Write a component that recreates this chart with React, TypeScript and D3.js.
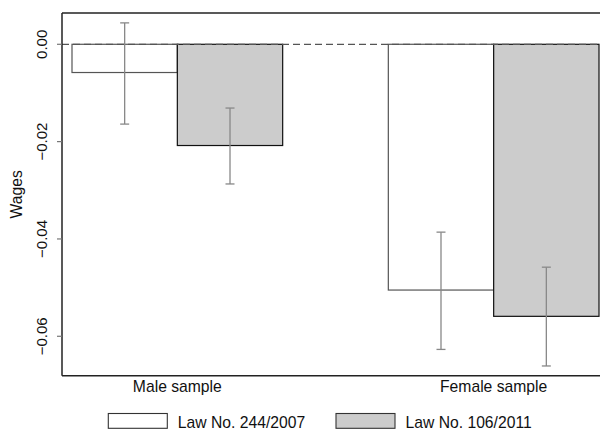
import React from "react";
import * as d3 from "d3";

const groups = ["Male sample", "Female sample"];
const series = ["Law No. 244/2007", "Law No. 106/2011"];
const law244 = [-0.0058, -0.0505];
const law106 = [-0.0208, -0.0559];
const law244Low = [-0.0164, -0.0627];
const law244High = [0.0044, -0.0386];
const law106Low = [-0.0287, -0.0661];
const law106High = [-0.0131, -0.0458];
const yTicks = [0, -0.02, -0.04, -0.06];
const yTickLabels = ["0.00", "\u22120.02", "\u22120.04", "\u22120.06"];

const fills = ["#ffffff", "#cccccc"];
const strokes = ["#555555", "#111111"];
const FONT = "'Liberation Sans', Arial, Helvetica, sans-serif";

export default function App() {
  const W = 600, H = 430;
  const left = 62, top = 13, bottom = 375.7, right = 600;
  const y = d3.scaleLinear().domain([-0.0681, 0.00643]).range([bottom, top]);
  const x0 = d3.scaleBand<string>().domain(groups).range([72, 599]).paddingInner(0.334).paddingOuter(0);
  const x1 = d3.scaleBand<string>().domain(series).range([0, x0.bandwidth()]).padding(0);

  const values = [law244, law106];
  const lows = [law244Low, law106Low];
  const highs = [law244High, law106High];

  const bars: React.ReactNode[] = [];
  const errs: React.ReactNode[] = [];
  groups.forEach((g, gi) => {
    series.forEach((s, si) => {
      const v = values[si][gi];
      const bx = (x0(g) as number) + (x1(s) as number);
      const bw = x1.bandwidth();
      bars.push(
        <rect key={`b${gi}${si}`} x={bx} y={y(0)} width={bw} height={y(v) - y(0)}
          fill={fills[si]} stroke={strokes[si]} strokeWidth={1.2} />
      );
      const cx = bx + bw / 2;
      const lo = y(lows[si][gi]);
      const hi = y(highs[si][gi]);
      errs.push(
        <g key={`e${gi}${si}`} stroke="#888888" strokeWidth={1.3}>
          <line x1={cx} x2={cx} y1={hi} y2={lo} />
          <line x1={cx - 4.5} x2={cx + 4.5} y1={hi} y2={hi} />
          <line x1={cx - 4.5} x2={cx + 4.5} y1={lo} y2={lo} />
        </g>
      );
    });
  });

  return (
    <svg width={W} height={H} style={{ position: "absolute", left: 0, top: 0, background: "#fff" }}
      fontFamily={FONT}>
      <rect x={0} y={0} width={W} height={H} fill="#fff" />
      {bars}
      <line x1={left} x2={right} y1={y(0)} y2={y(0)} stroke="#555" strokeWidth={1.3} strokeDasharray="7,4" />
      {errs}
      {/* frame */}
      <line x1={left} x2={right} y1={top} y2={top} stroke="#222" strokeWidth={1.3} />
      <line x1={left} x2={left} y1={top} y2={bottom} stroke="#222" strokeWidth={1.5} />
      <line x1={left} x2={right} y1={bottom} y2={bottom} stroke="#222" strokeWidth={1.5} />
      {/* y ticks */}
      {yTicks.map((t, i) => (
        <g key={`t${i}`}>
          <line x1={left - 5} x2={left} y1={y(t)} y2={y(t)} stroke="#777" strokeWidth={1.2} />
          <text x={47} y={y(t)} transform={`rotate(-90, 47, ${y(t)})`} textAnchor="middle"
            fontSize={15} fill="#111">{yTickLabels[i]}</text>
        </g>
      ))}
      <text x={22} y={(top + bottom) / 2} transform={`rotate(-90, 22, ${(top + bottom) / 2})`}
        textAnchor="middle" fontSize={15.7} fill="#111">Wages</text>
      {/* category labels */}
      {groups.map((g) => (
        <text key={g} x={(x0(g) as number) + x0.bandwidth() / 2} y={391.5} textAnchor="middle"
          fontSize={15.7} fill="#111">{g}</text>
      ))}
      {/* legend */}
      {series.map((s, si) => {
        const lx = si === 0 ? 108.3 : 336;
        return (
          <g key={s}>
            <rect x={lx} y={413.5} width={59} height={14.8} fill={fills[si]} stroke="#333" strokeWidth={1.1} />
            <text x={lx + 69.5} y={427.5} fontSize={15.7} fill="#111">{s}</text>
          </g>
        );
      })}
    </svg>
  );
}
